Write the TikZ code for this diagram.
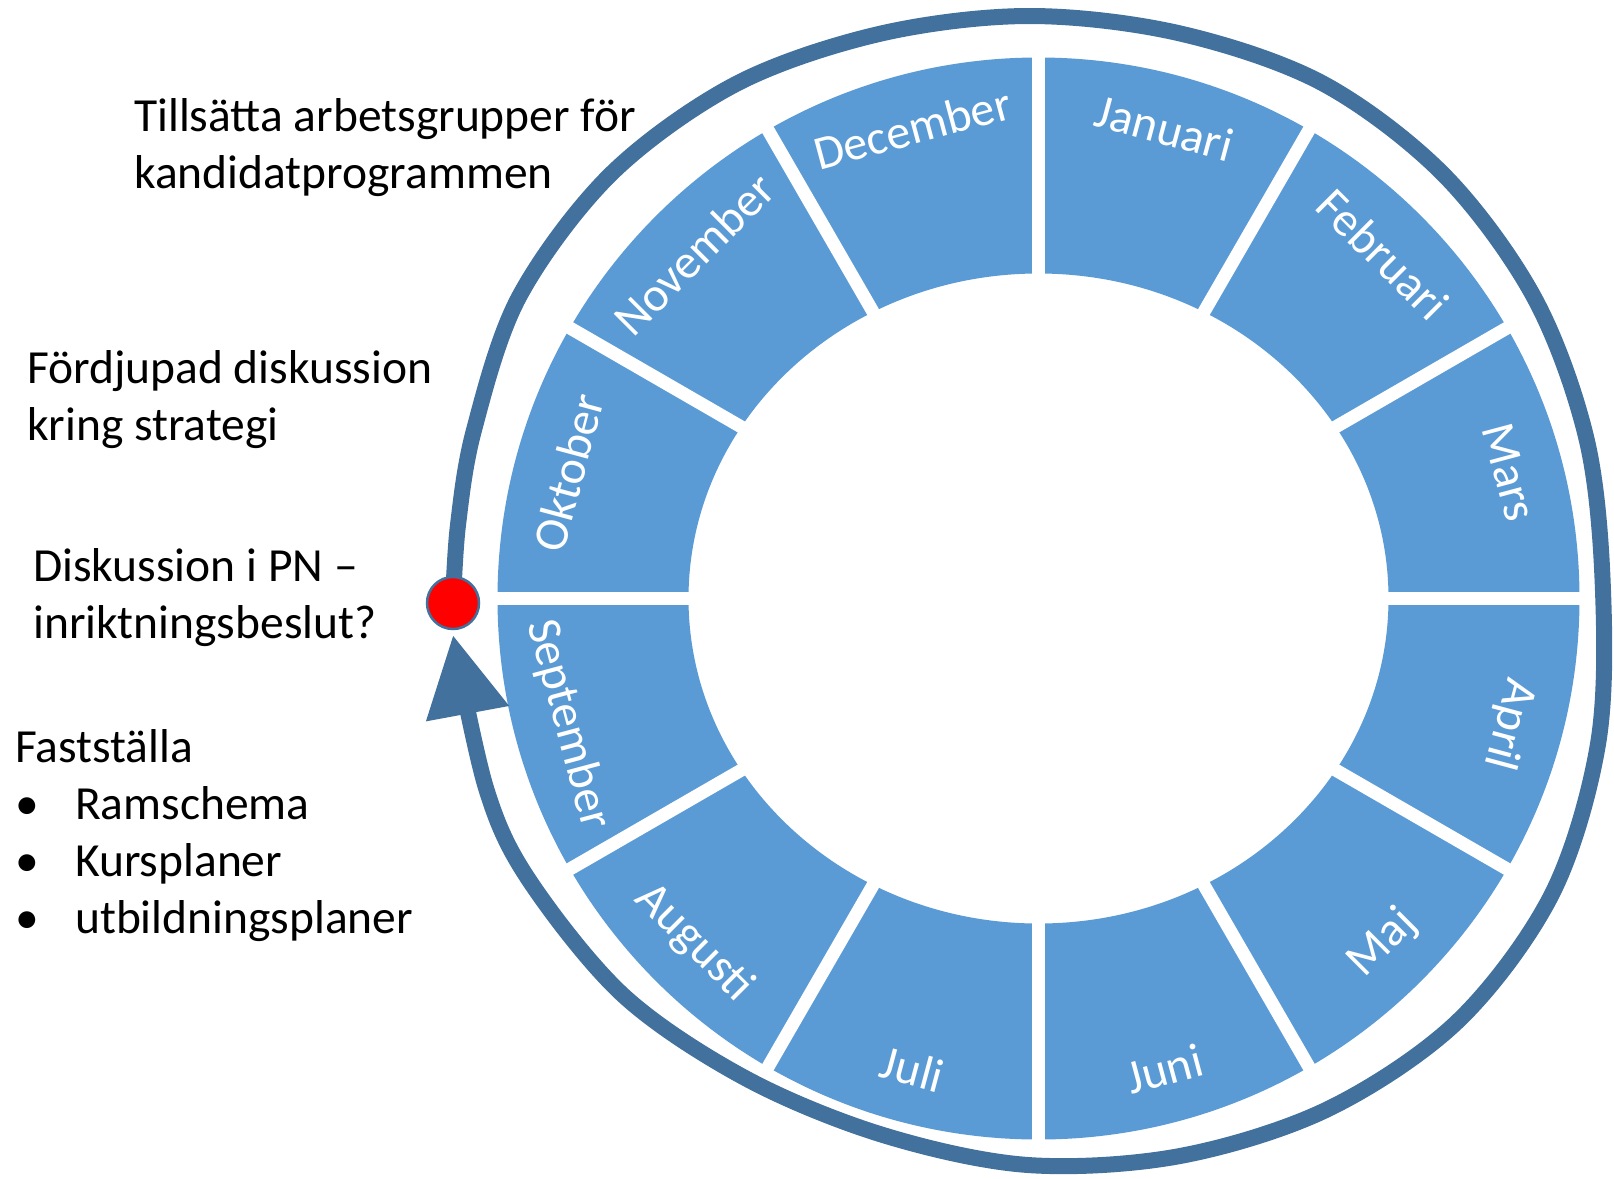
\documentclass[tikz,border=0pt]{standalone}
\usepackage{fontspec}
\setmainfont{Carlito}
\usetikzlibrary{arrows.meta}

\definecolor{wheelblue}{HTML}{5B9BD5}
\definecolor{loopblue}{HTML}{41719C}

\newcommand{\listpoint}[1]{\makebox[60pt][l]{\textbullet}#1}

\tikzset{
  monthlabel/.style={text=white, inner sep=0pt, font=\fontsize{48}{58}\selectfont},
  % base anchor sits on the last line
  notetext/.style={anchor=base west, align=left, inner sep=0pt, font=\fontsize{47.5}{56.8}\selectfont},
  gapline/.style={white, line width=13pt},
  yearloop/.style={loopblue, line width=16pt, -{Triangle[length=80pt,width=80pt]}},
  reddot/.style={circle, fill=red, draw=loopblue, line width=2.5pt, minimum size=52pt, inner sep=0pt}
}

\begin{document}
\begin{tikzpicture}[x=1pt,y=1pt]
    \useasboundingbox (0,0) rectangle (1614,-1178);
    \fill[white] (0,0) rectangle (1614,-1178);

    % the wheel
    \coordinate (wheel) at (1038.5,-598.5);
    \fill[wheelblue, even odd rule] (wheel) circle (541) (wheel) ellipse (350 and 325);
    \foreach \a in {0,30,...,330}
        \draw[gapline] (wheel) -- ++(\a:546);

    % months
    \foreach \ang/\rot/\month in {75/-15/Januari, 45/-45/Februari, 15/-75/Mars,
        -15/-105/April, -45/45/Maj, -75/15/Juni, -105/-15/Juli, -135/-45/Augusti,
        -165/-75/September, 165/75/Oktober, 135/45/November, 105/15/December}
        \node[monthlabel, rotate=\rot] (\month) at ([shift={(\ang:487)}]wheel) {\month};

    % the loop round the year
    \coordinate (pin) at (453,-603);
    \coordinate (tip) at (453,-635);
    \draw[yearloop] plot[smooth, tension=0.55] coordinates {
        (pin) (458,-525) (474,-430) (519,-297) (611,-174) (736,-84) (879,-34)
        (1028,-16) (1178,-33) (1322,-83) (1444,-175) (1535,-299) (1587,-441)
        (1603,-591) (1598,-744) (1552,-894) (1458,-1021) (1328,-1109)
        (1180,-1156) (1028,-1165) (883,-1135) (747,-1079) (624,-996)
        (529,-880) (486,-788) (tip)};
    \node[reddot] (dot) at (pin) {};

    % notes
    \node[notetext] (groups) at (134,-188) {Tillsätta arbetsgrupper för\\kandidatprogrammen};
    \node[notetext] (strategy) at (27,-440) {Fördjupad diskussion\\kring strategi};
    \node[notetext] (decision) at (33,-638) {Diskussion i PN –\\inriktningsbeslut?};
    \node[notetext] (adopt) at (15,-933) {Fastställa\\\listpoint{Ramschema}\\\listpoint{Kursplaner}\\\listpoint{utbildningsplaner}};
\end{tikzpicture}
\end{document}
